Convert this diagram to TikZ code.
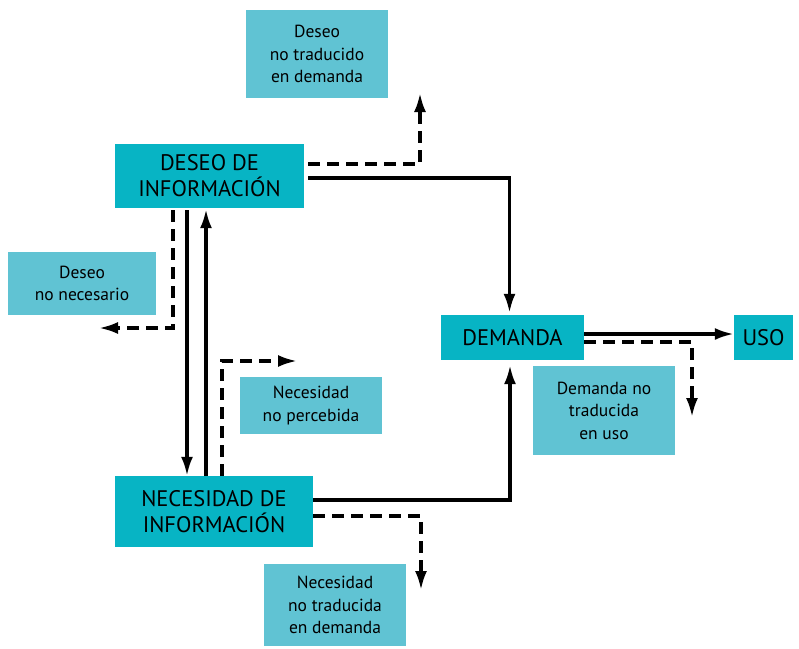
\documentclass[tikz,border=0pt]{standalone}
\usepackage{fontspec}
\setmainfont{PT Sans}
\usepackage{tikz}
\usetikzlibrary{arrows.meta,calc}
\definecolor{cajaF}{HTML}{07B4C4}
\definecolor{cajaC}{HTML}{60C3D3}
\begin{document}
\begin{tikzpicture}[x=1pt,y=-1pt,
  fuerte/.style={fill=cajaF,inner sep=0pt,align=center,font=\fontsize{22.5}{26}\selectfont},
  suave/.style={fill=cajaC,inner sep=0pt,align=center,font=\fontsize{17.5}{22.5}\selectfont},
  flujo/.style={line width=3.2pt,-{Latex[length=19pt,width=12pt]}},
  fuga/.style={flujo,dash pattern=on 12pt off 7pt}]
\useasboundingbox (0,0) rectangle (799,648);
\node[fuerte,minimum width=189pt,minimum height=64pt] (deseo) at (209.5,176) {DESEO DE\\INFORMACIÓN};
\node[fuerte,minimum width=198pt,minimum height=71pt] (necesidad) at (214,511.5) {NECESIDAD DE\\INFORMACIÓN};
\node[fuerte,minimum width=143pt,minimum height=45pt] (demanda) at (512.5,337.5) {DEMANDA};
\node[fuerte,minimum width=59pt,minimum height=45pt] (uso) at (763.5,337.5) {USO};
\node[suave,minimum width=142pt,minimum height=88pt] (deseoNoTrad) at (317,54) {Deseo\\no traducido\\en demanda};
\node[suave,minimum width=148pt,minimum height=63pt] (deseoNoNec) at (82,283.5) {Deseo\\no necesario};
\node[suave,minimum width=142pt,minimum height=57pt] (necNoPerc) at (311,405.5) {Necesidad\\no percebida};
\node[suave,minimum width=142pt,minimum height=89pt] (demNoTrad) at (604,410.5) {Demanda no\\traducida\\en uso};
\node[suave,minimum width=142pt,minimum height=82pt] (necNoTrad) at (335,605) {Necesidad\\no traducida\\en demanda};
\coordinate (finDeseoNoTrad) at (420,93);
\coordinate (finDeseoNoNec) at (99,328);
\coordinate (finNecNoPerc) at (297,361);
\coordinate (finNecNoTrad) at (421,590);
\coordinate (finDemNoTrad) at (692,417);
\draw[flujo,shorten <=4pt,shorten >=2pt] ([yshift=-2pt]deseo.east) -| ([xshift=-3pt]demanda.north);
\draw[fuga,shorten <=4pt] ([yshift=12pt]deseo.east) -| (finDeseoNoTrad);
\draw[flujo,shorten <=2pt] ([xshift=-22.5pt]deseo.south) -- ([xshift=-22.5pt]deseo.south |- necesidad.north);
\draw[flujo,shorten >=1pt] ([xshift=-8pt]necesidad.north) -- ([xshift=-8pt]necesidad.north |- deseo.south);
\draw[fuga,shorten <=2pt] ([xshift=-36.5pt]deseo.south) |- (finDeseoNoNec);
\draw[fuga] ([xshift=8pt]necesidad.north) |- (finNecNoPerc);
\draw[flujo,shorten >=5pt] ([yshift=11.5pt]necesidad.east) -| ([xshift=-2.5pt]demanda.south);
\draw[fuga] ([yshift=-4.5pt]necesidad.east) -| (finNecNoTrad);
\draw[flujo] ([yshift=3.5pt]demanda.east) -- ([yshift=3.5pt]uso.west);
\draw[fuga] ([yshift=-4.5pt]demanda.east) -| (finDemNoTrad);
\end{tikzpicture}
\end{document}
